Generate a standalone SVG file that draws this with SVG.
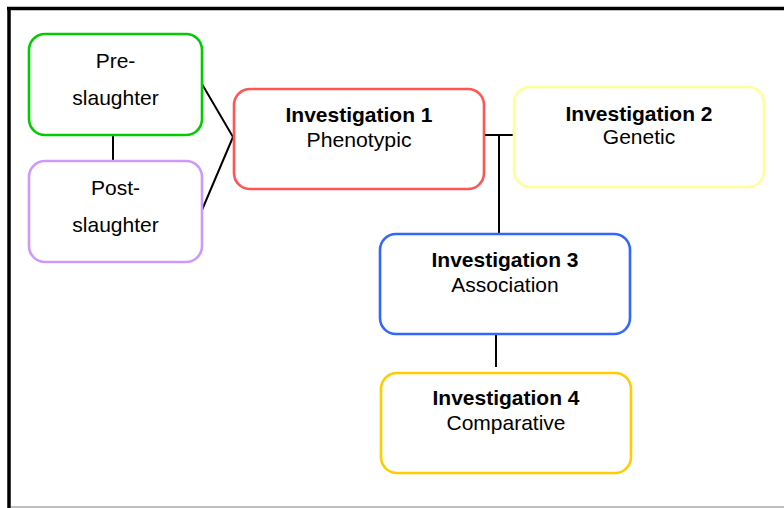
<svg xmlns="http://www.w3.org/2000/svg" width="784" height="508" viewBox="0 0 784 508">
<style>
.box{fill:#ffffff;stroke-width:2.6}
.t{font-family:"Liberation Sans",Arial,sans-serif;font-size:21px;fill:#000;text-anchor:middle}
.b{font-weight:bold}
.c{stroke:#000;stroke-width:2;fill:none}
</style>
<rect x="0" y="0" width="784" height="508" fill="#ffffff"/>
<g id="frame">
<line x1="7" y1="8.5" x2="784" y2="8.5" stroke="#000" stroke-width="3.5"/>
<line x1="9" y1="7" x2="9" y2="508" stroke="#000" stroke-width="3.5"/>
<line x1="11" y1="507" x2="784" y2="507" stroke="#aaaaaa" stroke-width="1.5"/>
</g>
<g id="connectors">
<line class="c" x1="113" y1="135" x2="113" y2="161"/>
<polyline class="c" points="202,84 233,137 202,210"/>
<line class="c" x1="483" y1="135" x2="513" y2="135"/>
<line class="c" x1="499" y1="135" x2="499" y2="233"/>
<line class="c" x1="496" y1="333" x2="496" y2="367"/>
</g>
<g id="pre-slaughter">
<rect class="box" x="29" y="34" width="173" height="101" rx="16" stroke="#00cc00"/>
<text class="t" x="115.5" y="68">Pre-</text>
<text class="t" x="115.5" y="105">slaughter</text>
</g>
<g id="post-slaughter">
<rect class="box" x="29" y="161" width="173" height="101" rx="16" stroke="#cc99ff"/>
<text class="t" x="115.5" y="195">Post-</text>
<text class="t" x="115.5" y="232">slaughter</text>
</g>
<g id="investigation1">
<rect class="box" x="234" y="89" width="250" height="100" rx="16" stroke="#ff5555"/>
<text class="t b" x="359" y="122">Investigation 1</text>
<text class="t" x="359" y="147" textLength="105" lengthAdjust="spacingAndGlyphs">Phenotypic</text>
</g>
<g id="investigation2">
<rect class="box" x="514" y="87" width="250" height="100" rx="16" stroke="#ffff99"/>
<text class="t b" x="639" y="121">Investigation 2</text>
<text class="t" x="639" y="144">Genetic</text>
</g>
<g id="investigation3">
<rect class="box" x="380" y="234" width="250" height="100" rx="16" stroke="#3366ff"/>
<text class="t b" x="505" y="267">Investigation 3</text>
<text class="t" x="505" y="292">Association</text>
</g>
<g id="investigation4">
<rect class="box" x="381" y="373" width="250" height="100" rx="16" stroke="#ffcc00"/>
<text class="t b" x="506" y="405">Investigation 4</text>
<text class="t" x="506" y="430">Comparative</text>
</g>
</svg>
